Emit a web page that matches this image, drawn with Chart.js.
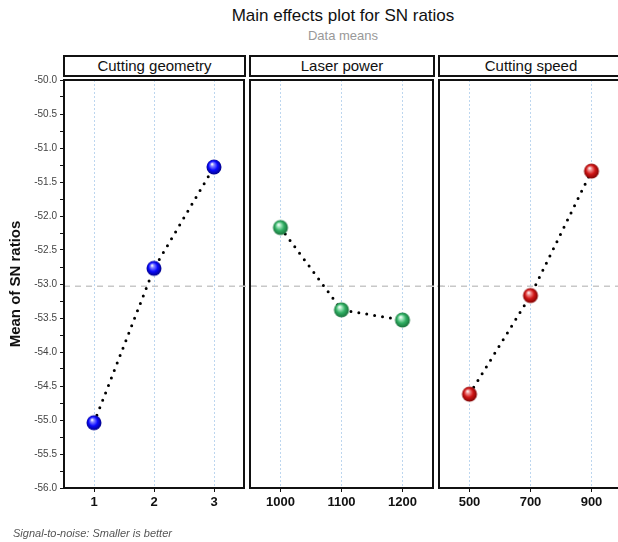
<!DOCTYPE html>
<html>
<head>
<meta charset="utf-8">
<script src="https://cdn.jsdelivr.net/npm/chart.js@4.4.1/dist/chart.umd.min.js"></script>
<style>
  html, body { margin:0; padding:0; background:#fff; width:618px; height:542px; overflow:hidden; }
  #wrap { position:relative; width:618px; height:542px; overflow:hidden; font-family:"Liberation Sans", Arial, sans-serif; }
  canvas { position:absolute; top:0; }
  .title { position:absolute; left:64px; width:558px; text-align:center; color:#111; }
  .hdr { position:absolute; top:55px; height:22px; box-sizing:border-box; border:2px solid #111;
         text-align:center; font-size:15px; line-height:18px; color:#111; background:#fff; }
  .foot { position:absolute; left:13px; top:527px; font-size:11px; font-style:italic; color:#555; }
</style>
</head>
<body>
<div id="wrap">
  <div class="title" style="top:6px;font-size:17px;">Main effects plot for SN ratios</div>
  <div class="title" style="top:28px;font-size:13px;color:#999;">Data means</div>
  <div class="hdr" style="left:63px;width:183px;">Cutting geometry</div>
  <div class="hdr" style="left:249px;width:186px;">Laser power</div>
  <div class="hdr" style="left:438px;width:186px;">Cutting speed</div>
  <canvas id="c1" width="262" height="542" style="left:0px"></canvas>
  <canvas id="c2" width="210" height="542" style="left:246px"></canvas>
  <canvas id="c3" width="210" height="542" style="left:435px"></canvas>
  <div class="foot">Signal-to-noise: Smaller is better</div>
</div>
<script>
// ---- data ----
const geometryLevels = ['1', '2', '3'];
const geometrySN     = [-55.04, -52.77, -51.28];
const powerLevels    = ['1000', '1100', '1200'];
const powerSN        = [-52.17, -53.38, -53.53];
const speedLevels    = ['500', '700', '900'];
const speedSN        = [-54.62, -53.17, -51.34];
const yMin = -56.0, yMax = -50.0, yStep = 0.25;

const allVals = geometrySN.concat(powerSN, speedSN);
const grandMean = allVals.reduce((a, b) => a + b, 0) / allVals.length;

const FONT = '"Liberation Sans", Arial, sans-serif';

function sphere(base, dark, light) {
  const c = document.createElement('canvas');
  c.width = c.height = 18;
  const g = c.getContext('2d');
  const grd = g.createRadialGradient(7, 6, 0.3, 9, 9, 8);
  grd.addColorStop(0, '#ffffff');
  grd.addColorStop(0.18, light);
  grd.addColorStop(0.55, base);
  grd.addColorStop(1, dark);
  g.fillStyle = grd;
  g.beginPath(); g.arc(9, 9, 7.5, 0, Math.PI * 2); g.fill();
  return c;
}

const panelPlugin = {
  id: 'panel',
  beforeDatasetsDraw(chart, args, opts) {
    const { ctx, chartArea } = chart;
    const y = chart.scales.y.getPixelForValue(grandMean);
    ctx.save();
    ctx.strokeStyle = '#c8c8c8';
    ctx.lineWidth = 1.5;
    ctx.setLineDash([6, 5]);
    ctx.beginPath();
    ctx.moveTo(opts.first ? chartArea.left : 0, y);
    ctx.lineTo(chart.width, y);
    ctx.stroke();
    ctx.restore();
  },
  afterDraw(chart) {
    const { ctx, chartArea: a } = chart;
    ctx.save();
    ctx.strokeStyle = '#111';
    ctx.lineWidth = 2;
    ctx.strokeRect(a.left, a.top, a.right - a.left, a.bottom - a.top);
    ctx.restore();
  }
};

function makeChart(id, labels, values, colors, first, pad) {
  const style = sphere(colors[0], colors[1], colors[2]);
  const yScale = {
    display: first,
    min: yMin, max: yMax,
    grid: { drawOnChartArea: false, drawTicks: true, tickLength: 4, tickColor: '#111' },
    border: { display: true, color: '#111', width: 2 },
    ticks: {
      stepSize: yStep,
      autoSkip: false,
      color: '#444',
      padding: 3,
      font: { family: FONT, size: 10 },
      callback(v) {
        const d = v * 2;
        return Math.abs(d - Math.round(d)) < 1e-6 ? Number(v).toFixed(1) : '';
      }
    },
    title: { display: true, text: 'Mean of SN ratios', color: '#111',
             font: { family: FONT, size: 15, weight: 'bold' }, padding: { top: 7, bottom: 0 } }
  };
  if (first) yScale.afterFit = function (scale) { scale.width = 64; };
  return new Chart(document.getElementById(id), {
    type: 'line',
    data: {
      labels: labels,
      datasets: [{
        data: values,
        borderColor: '#000',
        borderWidth: 3,
        borderDash: [0, 8],
        borderCapStyle: 'round',
        tension: 0,
        fill: false,
        pointStyle: style,
        pointRadius: 8,
        pointHoverRadius: 8
      }]
    },
    options: {
      responsive: false,
      animation: false,
      devicePixelRatio: 1,
      events: [],
      layout: { padding: pad },
      plugins: { legend: { display: false }, tooltip: { enabled: false }, title: { display: false }, panel: { first: first } },
      scales: {
        x: {
          type: 'category',
          offset: true,
          grid: { display: true, color: '#bcd6ef', lineWidth: 1, drawTicks: true,
                  tickLength: 4, tickColor: '#111', tickBorderDash: [], drawOnChartArea: true },
          border: { display: true, color: '#111', width: 2, dash: [2, 2] },
          ticks: { color: '#111', font: { family: FONT, size: 13, weight: 'bold' }, padding: 3, maxRotation: 0 },
          afterFit(scale) { scale.height = 54; }
        },
        y: yScale
      }
    },
    plugins: [panelPlugin]
  });
}

// place each panel so its plot area spans [wantLeft, wantRight] on the page
function fixArea(chart, wantLeft, wantRight) {
  const p = chart.options.layout.padding;
  for (let i = 0; i < 4; i++) {
    const a = chart.chartArea;
    const canvasLeft = wantLeft - a.left;
    chart.canvas.style.left = canvasLeft + 'px';
    const dr = (wantRight - canvasLeft) - a.right;
    if (Math.abs(dr) < 0.01) break;
    p.right -= dr;
    chart.update();
  }
}

const ch1 = makeChart('c1', geometryLevels, geometrySN, ['#0a0aff', '#00007a', '#8c8cff'], true,
          { top: 80, left: 0, right: 10, bottom: 0 });
const ch2 = makeChart('c2', powerLevels, powerSN, ['#2fae62', '#166a36', '#b0ecc8'], false,
          { top: 80, left: 4, right: 10, bottom: 0 });
const ch3 = makeChart('c3', speedLevels, speedSN, ['#d01515', '#760000', '#f49a9a'], false,
          { top: 80, left: 4, right: 10, bottom: 0 });
fixArea(ch1, 64, 244);
fixArea(ch2, 250, 433);
fixArea(ch3, 439, 622);
</script>
</body>
</html>
